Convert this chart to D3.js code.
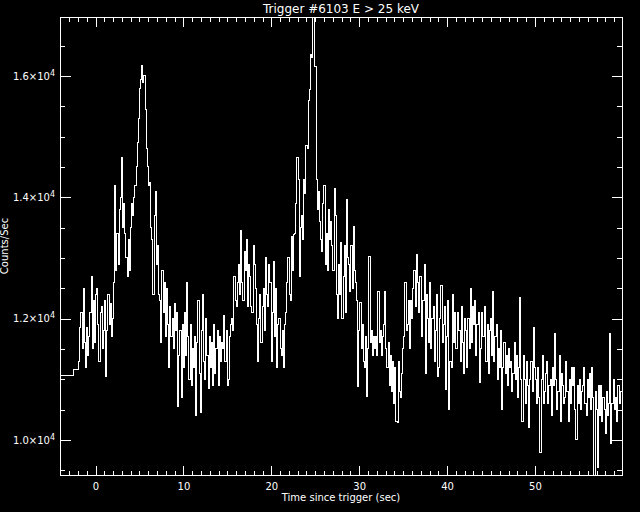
<!DOCTYPE html>
<html>
<head>
<meta charset="utf-8">
<script src="https://cdn.jsdelivr.net/npm/d3@7"></script>
<style>
  html, body { margin: 0; padding: 0; background: #000; }
  svg { display: block; }
  text { font-family: "DejaVu Sans", sans-serif; fill: #fff; }
</style>
</head>
<body>
<svg id="chart" width="640" height="512"></svg>
<script>
// ---------------- data ----------------
const titleText = "Trigger #6103 E > 25 keV";
const xLabel = "Time since trigger (sec)";
const yLabel = "Counts/Sec";

// pre-trigger coarse bins (start times, counts)
const preTimes = [-4.1, -2.56];
const preCounts = [11060, 11160];

// fine bins after -1.92 s, 0.128 s wide (one row = 1.024 s)
const binStart = -1.92;
const binWidth = 0.128;
const counts = [
  11300, 11850, 12100, 11500, 12500, 11600, 11200, 11850,   // -1.9
  11400, 11700, 12100, 12700, 11500, 12300, 11600, 12400,   // -0.9
  12500, 11900, 11300, 12100, 12200, 11500, 11800, 12300,   // 0.1
  11050, 11800, 12400, 11900, 12250, 11700, 12000, 12600,   // 1.2
  14200, 12800, 13400, 12900, 13800, 14000, 14650, 13500,   // 2.2
  13900, 13400, 13000, 12700, 13300, 12800, 13500, 13900,   // 3.2
  13700, 14000, 14200, 14500, 14900, 15300, 15800, 15950,   // 4.2
  16180, 15900, 16000, 15450, 14800, 14500, 14200, 14250,   // 5.3
  13500, 13300, 12400, 13700, 14100, 12900, 13200, 12400,   // 6.3
  12300, 11600, 12800, 12100, 12600, 11700, 12500, 11900,   // 7.3
  11200, 12200, 11700, 12000, 11500, 12250, 11800, 12100,   // 8.3
  10550, 11400, 11800, 10700, 11900, 11200, 12100, 11400,   // 9.3
  12600, 11700, 11000, 11900, 10900, 11500, 11200, 11700,   // 10.4
  10400, 11600, 12300, 11100, 10450, 11800, 12400, 11300,   // 11.4
  11000, 12000, 11400, 10850, 11700, 11200, 11600, 10900,   // 12.4
  11900, 11100, 11500, 11800, 10900, 11700, 11300, 11600,   // 13.4
  11500, 12050, 11300, 11800, 10900, 11000, 11700, 11900,   // 14.5
  12000, 11800, 12700, 12300, 12200, 12600, 12900, 12400,   // 15.5
  13450, 12600, 12300, 13100, 12800, 13300, 12200, 12900,   // 16.5
  12700, 12200, 12100, 13200, 12900, 12500, 11900, 11300,   // 17.5
  12000, 12400, 11600, 12200, 12500, 11800, 13000, 12400,   // 18.6
  12200, 12900, 12600, 11300, 12100, 12950, 11700, 12500,   // 19.6
  11200, 11900, 12000, 11500, 11400, 11800, 11200, 11900,   // 20.6
  12100, 12600, 13000, 12400, 12300, 13350, 12800, 13380,   // 21.6
  13400, 13900, 14650, 14300, 12700, 13500, 13700, 13300,   // 22.7
  14300, 14070, 14850, 14800, 15600, 15770, 16350, 16300,   // 23.7
  17400, 17400, 16150, 14300, 13800, 14100, 13600, 13300,   // 24.7
  13100, 13900, 14200, 12900, 13400, 12800, 13800, 13300,   // 25.7
  13600, 13200, 12800, 14150, 13700, 12400, 12000, 12900,   // 26.8
  12400, 13250, 12000, 12700, 13200, 12100, 13960, 13000,   // 27.8
  12900, 12450, 13200, 12500, 13520, 12800, 12600, 12300,   // 28.8
  10880, 11800, 12260, 11500, 11900, 11300, 11200, 11700,   // 29.8
  10710, 11500, 13020, 11600, 11800, 11400, 11700, 11500,   // 30.8
  11700, 11400, 12440, 11600, 11800, 11400, 11700, 11900,   // 31.9
  12440, 11500, 11200, 11600, 10900, 11400, 10800, 11300,   // 32.9
  10600, 11200, 10300, 10290, 11300, 10800, 10700, 11100,   // 33.9
  11500, 11700, 12600, 11800, 11900, 12300, 11500, 12300,   // 35.0
  12000, 12500, 12800, 12200, 13050, 12600, 12100, 12700,   // 36.0
  12700, 11700, 12300, 12900, 11100, 12400, 12000, 11600,   // 37.0
  12600, 11500, 12000, 12200, 11300, 11800, 12400, 11050,   // 38.1
  11200, 12000, 12550, 11600, 11900, 12200, 10830, 11700,   // 39.1
  12300, 10500, 11300, 11200, 12400, 11600, 12100, 11500,   // 40.1
  11500, 12100, 11800, 11300, 12200, 11600, 11100, 12000,   // 41.1
  11800, 11200, 12000, 11500, 12500, 11600, 12200, 11900,   // 42.2
  12300, 11400, 11900, 12100, 10950, 11500, 12100, 11700,   // 43.2
  11700, 12200, 11300, 11900, 11100, 11800, 12000, 11400,   // 44.2
  12450, 11300, 11700, 11900, 11000, 11500, 11200, 11800,   // 45.2
  10500, 11200, 11600, 11100, 11400, 10900, 11500, 11200,   // 46.3
  11300, 10800, 11100, 11600, 11000, 11400, 10700, 11200,   // 47.3
  12350, 11000, 10300, 11400, 11000, 10600, 11300, 10900,   // 48.3
  10200, 11000, 11300, 10800, 11850, 11200, 11000, 10600,   // 49.3
  11200, 10700,  9800, 11000, 11400, 10600, 10800, 11100,   // 50.4
  11300, 10600, 10900, 11000, 10400, 11200, 10900, 11750,   // 51.4
  11000, 10500, 10800, 11400, 10300, 11100, 10900, 10600,   // 52.4
  10700, 11300, 10800, 10300, 11000, 10600, 11200, 10900,   // 53.4
  11200, 10500, 10000, 10900, 10600, 11000, 10500, 10800,   // 54.5
  10900, 11200, 10600, 10400, 11000, 10700, 11100, 10500,   // 55.5
  11200, 10700,  9300, 10800, 10500,  9550, 10900, 10400,   // 56.5
  10900, 10300, 10700, 10500, 10100, 10800, 10400, 10600,   // 57.5
  11750,  9950, 10600, 11000, 10500, 10700, 10300, 10900,   // 58.6
  10900, 10600, 10800, 10700, 10800, 10800, 10800, 10800    // 59.6
];

const xDomain = [-4.04, 59.9];
const yDomain = [9423, 16972];
const xMajorTicks = [0, 10, 20, 30, 40, 50];
const xMinorTicks = d3.range(-4, 60, 1);
const yMajorTicks = [10000, 12000, 14000, 16000];
const yTickMantissas = ["1.0", "1.2", "1.4", "1.6"];
const yTickExponent = "4";
const yMinorTicks = d3.range(9500, 17000, 500);

// ---------------- layout ----------------
const W = 640, H = 512;
const L = 60, R = 622, T = 17, B = 475;

const svg = d3.select("#chart");
svg.append("rect").attr("width", W).attr("height", H).attr("fill", "#000");

const x = d3.scaleLinear().domain(xDomain).range([L, R]);
const y = d3.scaleLinear().domain(yDomain).range([B, T]);

// data points for a step histogram
const pts = [];
preTimes.forEach((t, i) => pts.push([t, preCounts[i]]));
counts.forEach((c, i) => pts.push([binStart + i * binWidth, c]));
pts.push([binStart + counts.length * binWidth, counts[counts.length - 1]]);

svg.append("clipPath").attr("id", "clip")
  .append("rect").attr("x", L).attr("y", T).attr("width", R - L).attr("height", B - T);

const line = d3.line()
  .x(d => x(d[0]))
  .y(d => y(d[1]))
  .curve(d3.curveStepAfter);

svg.append("path")
  .datum(pts)
  .attr("clip-path", "url(#clip)")
  .attr("d", line)
  .attr("fill", "none")
  .attr("stroke", "#fff")
  .attr("stroke-width", 1)
  .attr("shape-rendering", "crispEdges");

// ---------------- axes ----------------
function styleAxis(g) {
  g.select(".domain").remove();
  g.selectAll(".tick line").attr("stroke", "#fff").attr("stroke-width", 1)
    .attr("shape-rendering", "crispEdges");
}

// bottom
svg.append("g").attr("transform", `translate(0,${B})`)
  .call(d3.axisBottom(x).tickValues(xMinorTicks.filter(v => !xMajorTicks.includes(v)))
    .tickSize(-4.5).tickFormat(""))
  .call(styleAxis);
const gxb = svg.append("g").attr("transform", `translate(0,${B})`)
  .call(d3.axisBottom(x).tickValues(xMajorTicks).tickSize(-9.5).tickPadding(8)
    .tickFormat(d3.format("d")))
  .call(styleAxis);
gxb.selectAll(".tick text").attr("fill", "#fff").style("font-size", "10px")
  .style("font-family", "DejaVu Sans, sans-serif");

// top
svg.append("g").attr("transform", `translate(0,${T})`)
  .call(d3.axisTop(x).tickValues(xMinorTicks.filter(v => !xMajorTicks.includes(v)))
    .tickSize(-4.5).tickFormat(""))
  .call(styleAxis);
svg.append("g").attr("transform", `translate(0,${T})`)
  .call(d3.axisTop(x).tickValues(xMajorTicks).tickSize(-9.5).tickFormat(""))
  .call(styleAxis);

// left
svg.append("g").attr("transform", `translate(${L},0)`)
  .call(d3.axisLeft(y).tickValues(yMinorTicks.filter(v => !yMajorTicks.includes(v)))
    .tickSize(-5).tickFormat(""))
  .call(styleAxis);
const gyl = svg.append("g").attr("transform", `translate(${L},0)`)
  .call(d3.axisLeft(y).tickValues(yMajorTicks).tickSize(-10.5).tickPadding(5))
  .call(styleAxis);
gyl.selectAll(".tick text").each(function(d, i) {
  const t = d3.select(this);
  t.text(null).attr("fill", "#fff").style("font-size", "10px")
    .style("font-family", "DejaVu Sans, sans-serif");
  t.append("tspan").text(yTickMantissas[i] + "\u00d710");
  t.append("tspan").attr("dy", "-0.5em").style("font-size", "8px").text(yTickExponent);
});

// right
svg.append("g").attr("transform", `translate(${R},0)`)
  .call(d3.axisRight(y).tickValues(yMinorTicks.filter(v => !yMajorTicks.includes(v)))
    .tickSize(-5).tickFormat(""))
  .call(styleAxis);
svg.append("g").attr("transform", `translate(${R},0)`)
  .call(d3.axisRight(y).tickValues(yMajorTicks).tickSize(-10.5).tickFormat(""))
  .call(styleAxis);

// frame
svg.append("rect")
  .attr("x", L).attr("y", T).attr("width", R - L).attr("height", B - T)
  .attr("fill", "none").attr("stroke", "#fff").attr("stroke-width", 1)
  .attr("shape-rendering", "crispEdges");

// titles
svg.append("text").attr("x", (L + R) / 2).attr("y", 12.5)
  .attr("text-anchor", "middle").style("font-size", "12px").text(titleText);

svg.append("text").attr("x", (L + R) / 2).attr("y", 501)
  .attr("text-anchor", "middle").style("font-size", "10px").text(xLabel);

svg.append("text")
  .attr("transform", `translate(7.5,${(T + B) / 2}) rotate(-90)`)
  .attr("text-anchor", "middle").style("font-size", "10px").text(yLabel);
</script>
</body>
</html>
